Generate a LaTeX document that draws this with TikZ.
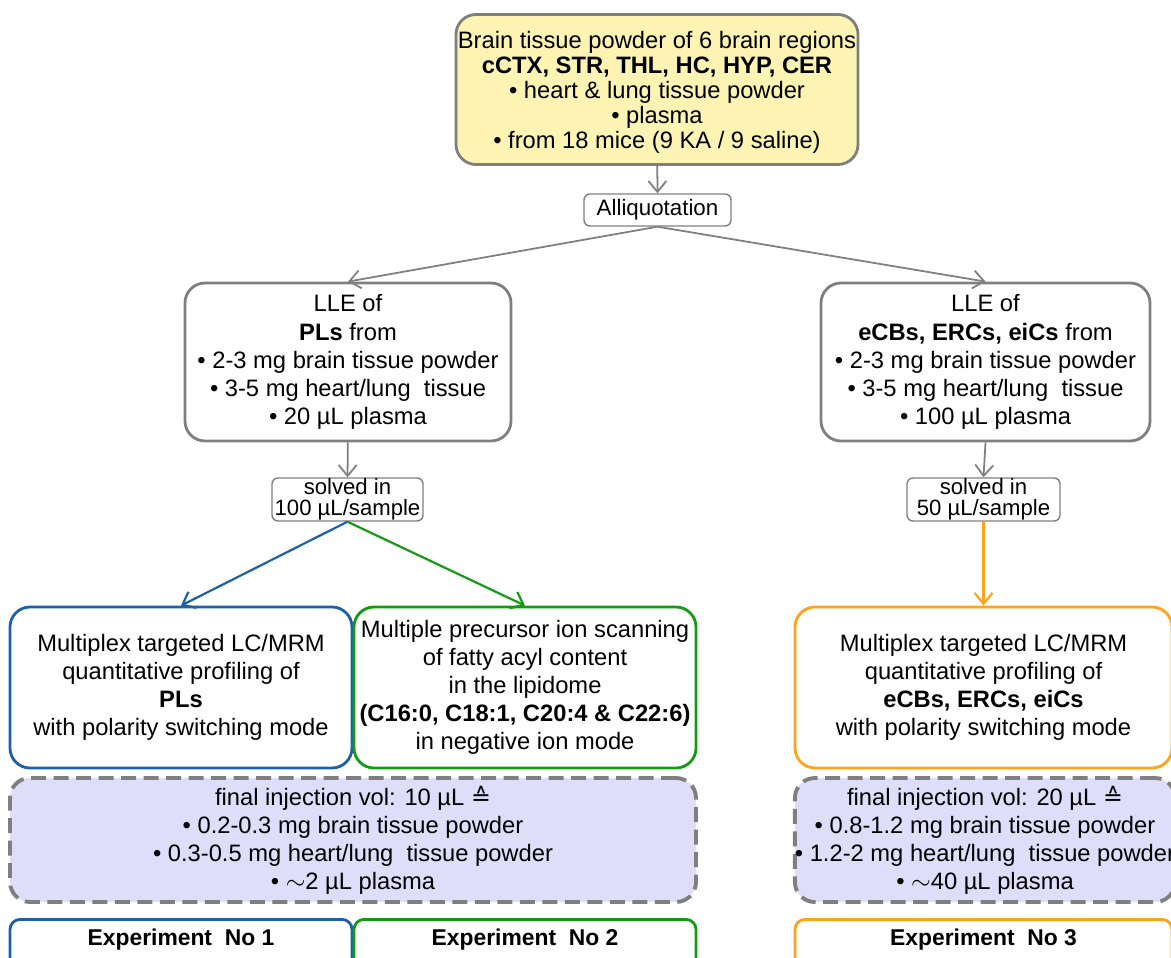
\documentclass[tikz,border=0pt]{standalone}
\usepackage{fontspec}
\setmainfont{Liberation Sans}
\newfontfamily\symfont{DejaVu Sans}
\usetikzlibrary{arrows.meta}
\definecolor{framegray}{HTML}{7F7F7F}
\definecolor{srcyellow}{HTML}{FDF4B4}
\definecolor{injlilac}{HTML}{DEDEFA}
\definecolor{plblue}{HTML}{1F5FA6}
\definecolor{fagreen}{HTML}{149A14}
\definecolor{ecborange}{HTML}{FFA21C}
\begin{document}
\begin{tikzpicture}[
    box/.style={rectangle, draw=framegray, line width=1.6pt, rounded corners=4mm, align=center, inner sep=0pt, font=\fontsize{13.5}{16}\selectfont},
    smallbox/.style={rectangle, draw=framegray, line width=0.8pt, rounded corners=1.2mm, align=center, inner sep=0pt},
    injbox/.style={box, fill=injlilac, dash pattern=on 0.3cm off 0.15cm, line width=2.2pt},
    expbox/.style={rectangle, draw, line width=1.6pt, rounded corners=2mm, anchor=north, minimum height=1.6cm, inner sep=0pt, font=\fontsize{13}{16}\selectfont\bfseries},
    arrow/.style={-{Straight Barb[length=2.2mm, width=3.6mm]}, line width=1pt, draw=framegray},
    colarrow/.style={arrow, line width=1.25pt}
]
\useasboundingbox (0,0) rectangle (23.42,-19.14);
\clip (0,0) rectangle (23.42,-19.14);
% Sample material
\node[box, fill=srcyellow, minimum width=8.04cm, minimum height=3.0cm, font=\fontsize{13.5}{14.2}\selectfont] (tissue) at (13.14,-1.79) {\rule{0pt}{0.45cm}Brain tissue powder of 6 brain regions\\\textbf{cCTX, STR, THL, HC, HYP, CER}\\• heart \& lung tissue powder\\• plasma\\• from 18 mice (9 KA / 9 saline)};
\node[smallbox, minimum width=2.94cm, minimum height=0.64cm, font=\fontsize{12.7}{14}\selectfont] (aliquot) at (13.15,-4.2) {Alliquotation};
% Extraction
\node[box, minimum width=6.52cm, minimum height=3.16cm] (llePL) at (6.96,-7.24) {LLE of\\\textbf{PLs} from\\• 2-3 mg brain tissue powder\\• 3-5 mg heart/lung\ \ tissue\\• 20 µL plasma};
\node[box, minimum width=6.58cm, minimum height=3.16cm] (lleECB) at (19.71,-7.24) {LLE of\\\textbf{eCBs, ERCs, eiCs} from\\• 2-3 mg brain tissue powder\\• 3-5 mg heart/lung\ \ tissue\\• 100 µL plasma};
\node[smallbox, minimum width=3.02cm, minimum height=0.86cm, font=\fontsize{12.6}{12.2}\selectfont] (solvPL) at (6.95,-9.99) {solved in\\100 µL/sample};
\node[smallbox, minimum width=3.06cm, minimum height=0.86cm, font=\fontsize{12.6}{12.2}\selectfont] (solvECB) at (19.67,-9.99) {solved in\\50 µL/sample};
% LC/MS methods
\node[box, draw=plblue, minimum width=6.84cm, minimum height=3.22cm] (mrmPL) at (3.62,-13.75) {Multiplex targeted LC/MRM\\quantitative profiling of\\\textbf{PLs}\\with polarity switching mode};
\node[box, draw=fagreen, minimum width=6.84cm, minimum height=3.22cm] (precFA) at (10.5,-13.75) {Multiple precursor ion scanning\\of fatty acyl content\\in the lipidome\\\textbf{(C16:0, C18:1, C20:4 \& C22:6)}\\in negative ion mode};
\node[box, draw=ecborange, minimum width=7.54cm, minimum height=3.22cm] (mrmECB) at (19.67,-13.75) {Multiplex targeted LC/MRM\\quantitative profiling of\\\textbf{eCBs, ERCs, eiCs}\\with polarity switching mode};
% Injected amounts
\node[injbox, minimum width=13.72cm, minimum height=2.48cm] (injPL) at (7.06,-16.8) {final injection vol: 10 µL {\symfont ≙}\\• 0.2-0.3 mg brain tissue powder\\• 0.3-0.5 mg heart/lung\ \ tissue powder\\• $\sim$2 µL plasma};
\node[injbox, minimum width=7.6cm, minimum height=2.48cm] (injECB) at (19.7,-16.8) {final injection vol: 20 µL {\symfont ≙}\\• 0.8-1.2 mg brain tissue powder\\• 1.2-2 mg heart/lung\ \ tissue powder\\• $\sim$40 µL plasma};
% Experiments
\node[expbox, draw=plblue, minimum width=6.84cm, text height=0.52cm, text depth=1.1cm] (exp1) at (3.62,-18.36) {Experiment\ \ No 1};
\node[expbox, draw=fagreen, minimum width=6.84cm, text height=0.52cm, text depth=1.1cm] (exp2) at (10.5,-18.36) {Experiment\ \ No 2};
\node[expbox, draw=ecborange, minimum width=7.54cm, text height=0.52cm, text depth=1.1cm] (exp3) at (19.67,-18.36) {Experiment\ \ No 3};
% Arrows
\draw[arrow] (tissue) -- (aliquot);
\draw[arrow] (aliquot.south) -- (llePL.north);
\draw[arrow] (aliquot.south) -- (lleECB.north);
\draw[arrow] (llePL) -- (solvPL);
\draw[arrow] (lleECB.south) -- (solvECB.north);
\draw[colarrow, draw=plblue] (solvPL.south) -- (mrmPL.north);
\draw[colarrow, draw=fagreen] (solvPL.south) -- (precFA.north);
\draw[colarrow, draw=ecborange] (solvECB.south) -- (solvECB.south |- mrmECB.north);
\end{tikzpicture}
\end{document}
